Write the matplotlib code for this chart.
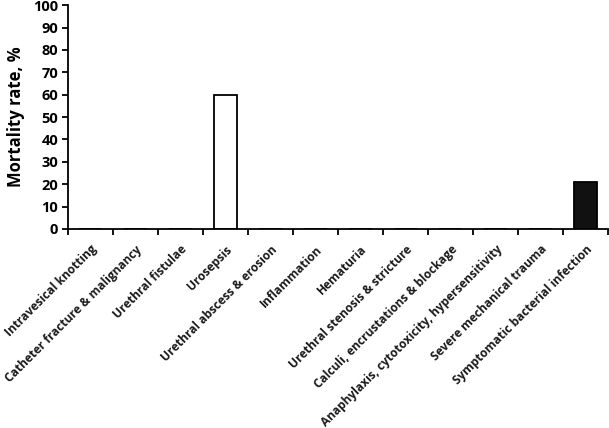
import matplotlib.pyplot as plt
import numpy as np

categories = ['Intravesical knotting', 'Catheter fracture & malignancy',
              'Urethral fistulae', 'Urosepsis', 'Urethral abscess & erosion',
              'Inflammation', 'Hematuria', 'Urethral stenosis & stricture',
              'Calculi, encrustations & blockage',
              'Anaphylaxis, cytotoxicity, hypersensitivity',
              'Severe mechanical trauma', 'Symptomatic bacterial infection']
mortality = [0, 0, 0, 60, 0, 0, 0, 0, 0, 0, 0, 21]
fills = ['white'] * 11 + ['#111111']

plt.rcParams['font.family'] = ['Open Sans', 'DejaVu Sans']
plt.rcParams['font.weight'] = 'bold'

fig = plt.figure(figsize=(6.09, 4.28), dpi=100)
ax = fig.add_axes([0.1117, 0.465, 0.887, 0.523])

x = np.arange(len(categories))
ax.bar(x, mortality, width=0.52, color=fills, edgecolor='black', linewidth=1.3)

ax.set_xlim(-0.5, len(categories) - 0.5)
ax.set_ylim(0, 100)
ax.set_yticks(np.arange(0, 101, 10))
ax.set_yticklabels([str(v) for v in range(0, 101, 10)], fontweight='bold')
ax.tick_params(axis='y', labelsize=10.5, width=1.3, length=4, pad=3)

ax.set_xticks(x)
ax.set_xticklabels(categories, rotation=45, ha='right', va='top',
                   rotation_mode='anchor', fontsize=8.6, color='#1a1a1a',
                   fontweight='bold')
ax.tick_params(axis='x', which='major', length=0, pad=10)
ax.set_xticks(np.arange(-0.5, len(categories), 1), minor=True)
ax.tick_params(axis='x', which='minor', length=4, width=1.3)

ax.set_ylabel('Mortality rate, %', fontsize=12, fontweight='bold', labelpad=6)

for side in ['top', 'right']:
    ax.spines[side].set_visible(False)
for side in ['left', 'bottom']:
    ax.spines[side].set_linewidth(1.3)

fig.savefig('out.png', dpi=100)
